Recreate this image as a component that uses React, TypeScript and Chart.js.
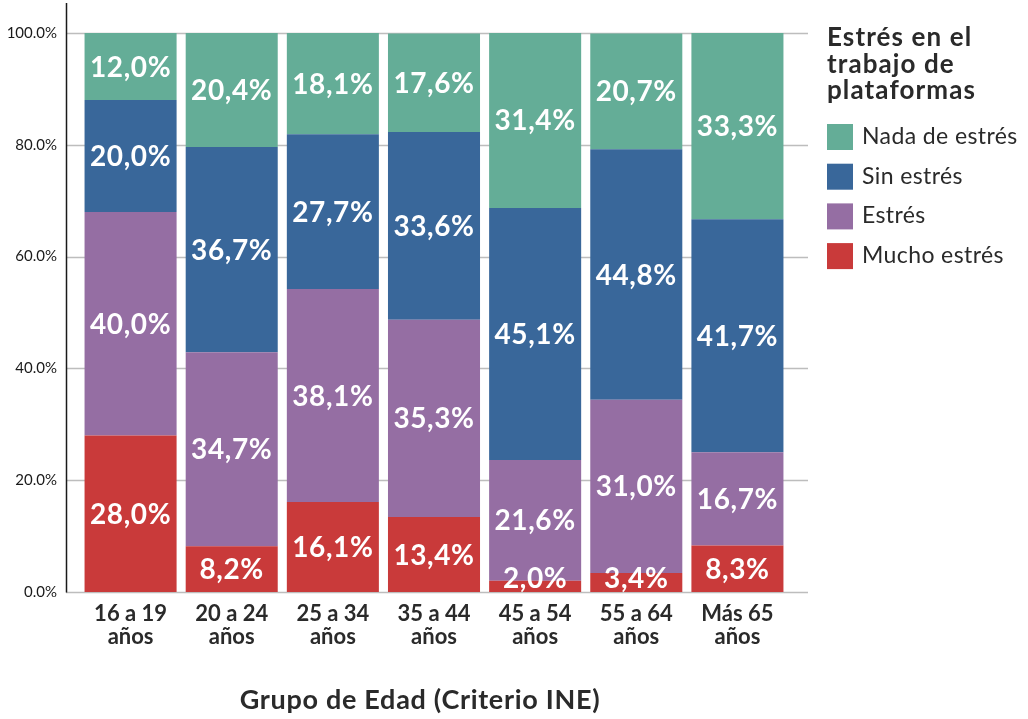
import React, { useEffect, useRef } from "react";
import { Chart, registerables } from "chart.js";

Chart.register(...registerables);

// Age groups (two-line tick labels)
const categories: string[][] = [
  ["16 a 19", "años"],
  ["20 a 24", "años"],
  ["25 a 34", "años"],
  ["35 a 44", "años"],
  ["45 a 54", "años"],
  ["55 a 64", "años"],
  ["Más 65", "años"],
];

// Percentages per stress level (stacked bottom to top)
const muchoEstres = [28.0, 8.2, 16.1, 13.4, 2.0, 3.4, 8.3];
const estres = [40.0, 34.7, 38.1, 35.3, 21.6, 31.0, 16.7];
const sinEstres = [20.0, 36.7, 27.7, 33.6, 45.1, 44.8, 41.7];
const nadaEstres = [12.0, 20.4, 18.1, 17.6, 31.4, 20.7, 33.3];

const seriesNames = ["Mucho estrés", "Estrés", "Sin estrés", "Nada de estrés"];
const seriesColors = ["#C93A3A", "#956EA3", "#39679A", "#64AD97"];

const yTicks = [0, 20, 40, 60, 80, 100];
const legendTitle = ["Estrés en el", "trabajo de", "plataformas"];
const axisTitle = "Grupo de Edad (Criterio INE)";

const FONT = "Lato, 'Open Sans', sans-serif";
const TEXT = "#2a2a2a";

const fmt = (v: number) => v.toFixed(1).replace(".", ",") + "%";

const setSpacing = (ctx: any, px: number) => {
  if ("letterSpacing" in ctx) ctx.letterSpacing = `${px}px`;
};

const decorPlugin = {
  id: "decor",
  beforeDatasetsDraw(chart: any) {
    const { ctx, chartArea, scales } = chart;
    const y = scales.y;
    ctx.save();
    ctx.strokeStyle = "#bdbdbd";
    ctx.lineWidth = 1.5;
    yTicks.forEach((t) => {
      const py = Math.round(y.getPixelForValue(t)) + 0.5;
      ctx.beginPath();
      ctx.moveTo(66, py);
      ctx.lineTo(808, py);
      ctx.stroke();
    });
    ctx.strokeStyle = "#1a1a1a";
    ctx.beginPath();
    ctx.moveTo(66.5, 3);
    ctx.lineTo(66.5, chartArea.bottom + 0.5);
    ctx.stroke();
    ctx.restore();
  },
  afterDatasetsDraw(chart: any) {
    const { ctx, chartArea } = chart;
    ctx.save();
    ctx.fillStyle = "#ffffff";
    ctx.font = `bold 28px ${FONT}`;
    setSpacing(ctx, 0.6);
    ctx.textAlign = "center";
    ctx.textBaseline = "middle";
    chart.data.datasets.forEach((ds: any, di: number) => {
      const meta = chart.getDatasetMeta(di);
      meta.data.forEach((bar: any, i: number) => {
        const v = ds.data[i];
        const top = Math.min(bar.y, bar.base);
        const bottom = Math.max(bar.y, bar.base);
        let cy = (top + bottom) / 2;
        cy = Math.min(cy, chartArea.bottom - 14);
        ctx.fillText(fmt(v), bar.x, cy + 1);
      });
    });
    ctx.restore();
  },
  afterDraw(chart: any) {
    const { ctx } = chart;
    ctx.save();
    // Legend title
    ctx.fillStyle = TEXT;
    ctx.textAlign = "left";
    ctx.textBaseline = "alphabetic";
    ctx.font = `bold 26px ${FONT}`;
    setSpacing(ctx, 1.1);
    legendTitle.forEach((line, i) => {
      ctx.fillText(line, 827, 46 + i * 26.5);
    });
    // Legend items, top of stack first
    ctx.font = `23px ${FONT}`;
    setSpacing(ctx, 0.4);
    for (let k = 0; k < seriesNames.length; k++) {
      const idx = seriesNames.length - 1 - k;
      const top = 124 + k * 39.7;
      ctx.fillStyle = seriesColors[idx];
      ctx.fillRect(827, top, 26, 26);
      ctx.fillStyle = TEXT;
      ctx.fillText(seriesNames[idx], 862, top + 20);
    }
    // X axis title
    ctx.font = `bold 27px ${FONT}`;
    setSpacing(ctx, 0.7);
    ctx.textAlign = "center";
    ctx.fillText(axisTitle, 420, 709);
    ctx.restore();
  },
};

export default function App() {
  const canvasRef = useRef<HTMLCanvasElement | null>(null);

  useEffect(() => {
    document.body.style.margin = "0";
    const canvas = canvasRef.current;
    if (!canvas) return;
    const seriesData = [muchoEstres, estres, sinEstres, nadaEstres];
    const chart = new Chart(canvas, {
      type: "bar",
      data: {
        labels: categories,
        datasets: seriesNames.map((name, i) => ({
          label: name,
          data: seriesData[i],
          backgroundColor: seriesColors[i],
          borderWidth: 0,
          barPercentage: 0.91,
          categoryPercentage: 1,
        })),
      },
      options: {
        responsive: false,
        animation: false,
        layout: { padding: { top: 33, right: 240, bottom: 0, left: 0 } },
        plugins: {
          legend: { display: false },
          tooltip: { enabled: false },
        },
        scales: {
          x: {
            stacked: true,
            grid: { display: false },
            border: { display: false },
            ticks: {
              color: TEXT,
              font: { family: FONT, size: 22, weight: "bold", lineHeight: 1.05 },
              padding: 2,
              maxRotation: 0,
            },
            afterFit: (scale: any) => {
              scale.height = 127;
            },
          },
          y: {
            stacked: true,
            min: 0,
            max: 100,
            grid: { display: false, drawTicks: false },
            border: { display: false },
            ticks: {
              stepSize: 20,
              padding: 23,
              color: "#1a1a1a",
              font: { family: FONT, size: 15 },
              callback: (v: any) => Number(v).toFixed(1) + "%",
            },
            afterFit: (scale: any) => {
              scale.width = 80;
            },
          },
        },
      },
      plugins: [decorPlugin],
    });
    return () => chart.destroy();
  }, []);

  return (
    <div style={{ width: 1028, height: 719 }}>
      <canvas ref={canvasRef} width={1028} height={719} />
    </div>
  );
}
